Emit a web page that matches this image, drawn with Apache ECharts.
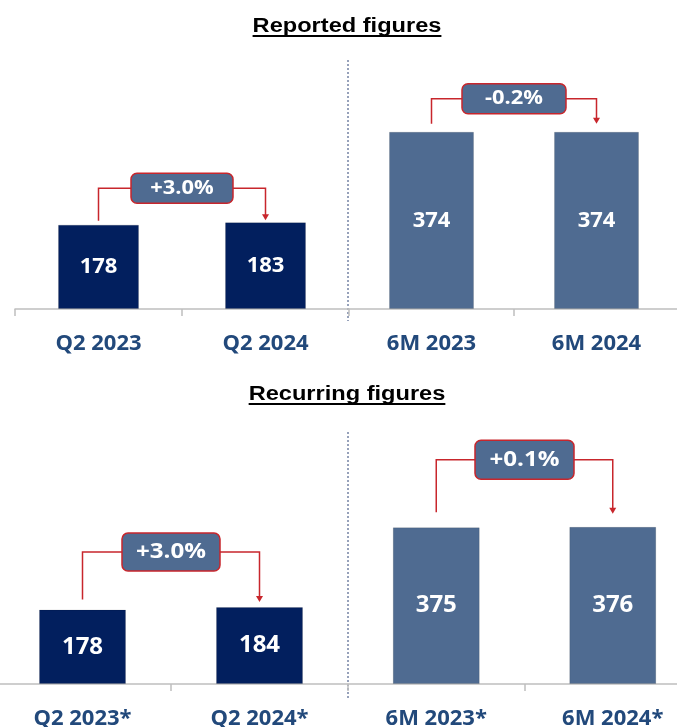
<!DOCTYPE html>
<html lang="en" style="height: 100%">
<head>
    <meta charset="utf-8">
    <title>Reported / Recurring figures</title>
    <script src="https://cdn.jsdelivr.net/npm/echarts@6/dist/echarts.min.js"></script>
</head>
<body style="height: 100%; margin: 0; background: #fff">
    <div id="main" style="width: 677px; height: 727px"></div>
    <script>
        // values
        const quarterLabels = ['Q2 2023', 'Q2 2024'];
        const halfLabels = ['6M 2023', '6M 2024'];
        const quarterLabelsRec = ['Q2 2023*', 'Q2 2024*'];
        const halfLabelsRec = ['6M 2023*', '6M 2024*'];

        const reportedQuarter = [178, 183];
        const reportedHalf = [374, 374];
        const recurringQuarter = [178, 184];
        const recurringHalf = [375, 376];

        const reportedChange = ['+3.0%', '-0.2%'];
        const recurringChange = ['+3.0%', '+0.1%'];

        const NAVY = '#021f5e';
        const STEEL = '#4f6b91';
        const RED = '#c8262c';
        const LABEL_BLUE = '#22497b';
        const FONT = '"Open Sans", "Noto Sans", sans-serif';

        // one panel per grid
        const panels = [
            { cats: quarterLabels, values: reportedQuarter, change: reportedChange[0], color: NAVY,
              grid: { left: 15, width: 334, top: 72, bottom: 418 }, barWidth: 81, valueSize: 22, boxFont: 19,
              box: [102, 30], rise: 34, gap: [4, 2] },
            { cats: halfLabels, values: reportedHalf, change: reportedChange[1], color: STEEL,
              grid: { left: 349, width: 330, top: 72, bottom: 418 }, barWidth: 85, valueSize: 22, boxFont: 19,
              box: [104, 30], rise: 33, gap: [8, 8] },
            { cats: quarterLabelsRec, values: recurringQuarter, change: recurringChange[0], color: NAVY,
              grid: { left: -6, width: 354, top: 475, bottom: 43 }, barWidth: 87, valueSize: 24, boxFont: 21,
              box: [98, 38], rise: 55, gap: [10, 5] },
            { cats: halfLabelsRec, values: recurringHalf, change: recurringChange[1], color: STEEL,
              grid: { left: 348, width: 353, top: 475, bottom: 43 }, barWidth: 87, valueSize: 24, boxFont: 21,
              box: [99, 39], rise: 67, gap: [15, 13] }
        ];

        const myChart = echarts.init(document.getElementById('main'), null, { renderer: 'canvas' });

        const option = {
            animation: false,
            backgroundColor: '#fff',
            grid: panels.map(p => Object.assign({ containLabel: false, outerBoundsMode: 'none' }, p.grid)),
            xAxis: panels.map((p, i) => ({
                type: 'category',
                gridIndex: i,
                data: p.cats,
                axisLine: { lineStyle: { color: '#bfbfbf', width: 1.5 } },
                axisTick: { show: true, length: 7, lineStyle: { color: '#bfbfbf', width: 1.5 } },
                axisLabel: {
                    margin: 24,
                    color: LABEL_BLUE,
                    fontFamily: FONT,
                    fontWeight: 'bold',
                    fontSize: 22,
                    interval: 0
                }
            })),
            yAxis: panels.map((p, i) => ({
                type: 'value',
                gridIndex: i,
                min: 0,
                max: 500,
                show: false
            })),
            series: panels.map((p, i) => ({
                type: 'bar',
                xAxisIndex: i,
                yAxisIndex: i,
                data: p.values,
                barWidth: p.barWidth,
                itemStyle: { color: p.color, borderColor: 'rgba(0,0,0,0.12)', borderWidth: 1 },
                label: {
                    show: true,
                    position: 'inside',
                    color: '#fff',
                    fontFamily: FONT,
                    fontWeight: 'bold',
                    fontSize: p.valueSize
                }
            }))
        };
        myChart.setOption(option);

        // text width for the underlined headings
        function textWidth(str, font) {
            const ctx = document.createElement('canvas').getContext('2d');
            ctx.font = font;
            return ctx.measureText(str).width;
        }

        // the slide is stretched sideways, so the headings get a small x scale
        function heading(str, y) {
            const font = 'bold 20px "Liberation Sans", Arial, sans-serif';
            const sx = 1.18;
            const w = textWidth(str, font) * sx;
            return [
                { type: 'text', x: 347, y: y, scaleX: sx, originX: 0,
                  style: { text: str, font: font, fill: '#000', textAlign: 'center', textVerticalAlign: 'top' } },
                { type: 'line', shape: { x1: 347 - w / 2, y1: y + 20, x2: 347 + w / 2, y2: y + 20 },
                  style: { stroke: '#000', lineWidth: 2.2 } }
            ];
        }

        const graphics = [];
        graphics.push(...heading('Reported figures', 16));
        graphics.push(...heading('Recurring figures', 384));

        // dotted separators between the quarter and half-year panels
        graphics.push({ type: 'line', shape: { x1: 348, y1: 60, x2: 348, y2: 321 },
            style: { stroke: '#2e4577', lineWidth: 1, lineDash: [2, 2] } });
        graphics.push({ type: 'line', shape: { x1: 348, y1: 432, x2: 348, y2: 698 },
            style: { stroke: '#2e4577', lineWidth: 1, lineDash: [2, 2] } });

        // change brackets, placed from the bar positions
        panels.forEach((p, i) => {
            const a = myChart.convertToPixel({ gridIndex: i }, [0, p.values[0]]);
            const b = myChart.convertToPixel({ gridIndex: i }, [1, p.values[1]]);
            const lvl = Math.min(a[1], b[1]) - p.rise;
            const mid = (a[0] + b[0]) / 2;
            const bw = p.box[0], bh = p.box[1];
            const tipY = b[1] - p.gap[1];
            graphics.push({ type: 'polyline', shape: { points: [[a[0], a[1] - p.gap[0]], [a[0], lvl], [mid - bw / 2, lvl]] },
                style: { stroke: RED, lineWidth: 1.5, fill: null } });
            graphics.push({ type: 'polyline', shape: { points: [[mid + bw / 2, lvl], [b[0], lvl], [b[0], tipY - 5]] },
                style: { stroke: RED, lineWidth: 1.5, fill: null } });
            graphics.push({ type: 'polygon', shape: { points: [[b[0] - 3.5, tipY - 6], [b[0] + 3.5, tipY - 6], [b[0], tipY]] },
                style: { fill: RED } });
            graphics.push({ type: 'rect', shape: { x: mid - bw / 2, y: lvl - bh / 2, width: bw, height: bh, r: 6 },
                style: { fill: STEEL, stroke: RED, lineWidth: 1.5 } });
            graphics.push({ type: 'text', x: mid, y: lvl, scaleX: 1.15,
                style: { text: p.change, fill: '#fff', font: 'bold ' + p.boxFont + 'px ' + FONT,
                         textAlign: 'center', textVerticalAlign: 'middle' } });
        });

        myChart.setOption({ graphic: graphics });
    </script>
</body>
</html>
